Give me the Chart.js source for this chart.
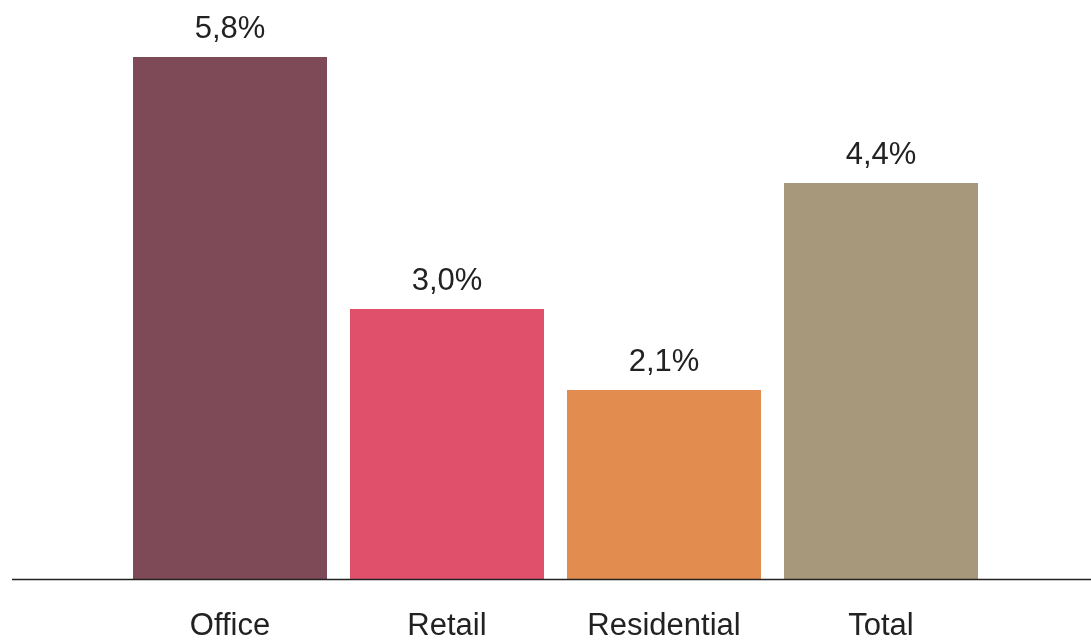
<!DOCTYPE html>
<html>
<head>
<meta charset="utf-8">
<script src="https://cdn.jsdelivr.net/npm/chart.js@4"></script>
<style>
  html, body { margin: 0; padding: 0; background: #fff; }
  #wrap { width: 1091px; height: 640px; }
</style>
</head>
<body>
<div id="wrap"><canvas id="chart"></canvas></div>
<script>
// data
const categories = ['Office', 'Retail', 'Residential', 'Total'];
const values = [5.8, 3.0, 2.1, 4.4];
const valueLabels = ['5,8%', '3,0%', '2,1%', '4,4%'];
const barColors = ['#7f4a57', '#e0506b', '#e38c4f', '#a8987b'];

const FONT = '"Liberation Sans", Arial, Helvetica, sans-serif';

// value labels above each bar
const valueLabelPlugin = {
  id: 'valueLabels',
  afterDatasetsDraw(chart) {
    const ctx = chart.ctx;
    const meta = chart.getDatasetMeta(0);
    ctx.save();
    ctx.font = '31px ' + FONT;
    ctx.fillStyle = '#222';
    ctx.textAlign = 'center';
    ctx.textBaseline = 'alphabetic';
    meta.data.forEach((bar, i) => {
      ctx.fillText(valueLabels[i], bar.x, bar.y - 19);
    });
    ctx.restore();
  }
};

// baseline across the full width
const baselinePlugin = {
  id: 'baseline',
  afterDatasetsDraw(chart) {
    const ctx = chart.ctx;
    const y = Math.round(chart.scales.y.getPixelForValue(0)) + 0.5;
    ctx.save();
    ctx.strokeStyle = '#222';
    ctx.lineWidth = 1.5;
    ctx.beginPath();
    ctx.moveTo(12, y);
    ctx.lineTo(chart.width, y);
    ctx.stroke();
    ctx.restore();
  }
};

new Chart(document.getElementById('chart'), {
  type: 'bar',
  data: {
    labels: categories,
    datasets: [{
      data: values,
      backgroundColor: barColors,
      borderWidth: 0,
      categoryPercentage: 1.0,
      barPercentage: 0.894
    }]
  },
  options: {
    responsive: true,
    maintainAspectRatio: false,
    animation: false,
    layout: { padding: { left: 121.5, right: 101.5, top: 39, bottom: 0 } },
    plugins: {
      legend: { display: false },
      tooltip: { enabled: false }
    },
    scales: {
      y: {
        display: false,
        min: 0,
        max: 6.0
      },
      x: {
        offset: true,
        grid: { display: false },
        border: { display: false },
        afterFit(scale) { scale.height = 61; },
        ticks: {
          color: '#222',
          padding: 21,
          font: { family: FONT, size: 31 }
        }
      }
    }
  },
  plugins: [valueLabelPlugin, baselinePlugin]
});
</script>
</body>
</html>
